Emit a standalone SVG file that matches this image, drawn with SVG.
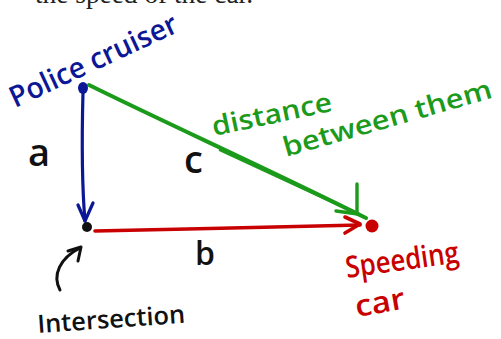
<svg xmlns="http://www.w3.org/2000/svg" width="501" height="339" viewBox="0 0 501 339">
<style>
.hand{font-family:"Open Sans","DejaVu Sans","Liberation Sans",sans-serif;font-weight:600;}
.ln{fill:none;stroke-linecap:round;stroke-linejoin:round;}
.blue{stroke:#0c1796;}
.green{stroke:#1b9a1b;}
.red{stroke:#c80000;}
.blk{stroke:#111;}
</style>
<rect width="501" height="339" fill="#fff"/>
<text x="35" y="3" font-family="Liberation Serif, serif" font-size="27" fill="#222" textLength="218" lengthAdjust="spacingAndGlyphs">the speed of the car.</text>

<g id="connectors">
  <!-- a: police to intersection -->
  <path class="ln blue" stroke-width="3.2" d="M83,92 C82,130 81,175 85,221"/>
  <path class="ln blue" stroke-width="3.2" d="M78,205 L85,221 L93,203"/>
  <!-- b: intersection to car -->
  <path class="ln red" stroke-width="3.6" d="M95,231 C180,229 280,227 360,225"/>
  <path class="ln red" stroke-width="3.6" d="M345,217 L360,224 L345,233"/>
  <!-- c: police to car -->
  <path class="ln green" stroke-width="4" d="M89,85 C170,125 270,170 366,218"/>
  <path class="ln green" stroke-width="2.5" d="M220,150 C280,178 320,196 360,215"/>
  <path class="ln green" stroke-width="3.4" d="M357,184 L357,213 M336,211 L358,214"/>
  <!-- intersection pointer -->
  <path class="ln blk" stroke-width="3" d="M60,290 C52,275 60,258 80,248"/>
  <path class="ln blk" stroke-width="3" d="M68,251 L81,247 L78,261"/>
</g>

<g id="police">
  <ellipse cx="83" cy="88" rx="5" ry="6" fill="#0c1796"/>
  <text class="hand" x="15" y="108" font-size="29" fill="#0c1796" transform="rotate(-25 15 108)" textLength="182" lengthAdjust="spacingAndGlyphs">Police cruiser</text>
</g>

<g id="intersection">
  <circle cx="87" cy="227" r="5" fill="#111"/>
  <text class="hand" x="38" y="333" font-size="25" fill="#111" transform="rotate(-4 38 333)" textLength="148" lengthAdjust="spacingAndGlyphs">Intersection</text>
</g>

<g id="car">
  <circle cx="372" cy="226" r="6.5" fill="#c80000"/>
  <text class="hand" x="347" y="278" font-size="30" fill="#c80000" transform="rotate(-8 347 278)" textLength="114" lengthAdjust="spacingAndGlyphs">Speeding</text>
  <text class="hand" x="357" y="317" font-size="30" fill="#c80000" transform="rotate(-10 357 317)" textLength="50" lengthAdjust="spacingAndGlyphs">car</text>
</g>

<g id="labels">
  <text class="hand" x="28" y="166" font-size="38" fill="#111">a</text>
  <text class="hand" x="184" y="173" font-size="38" fill="#111">c</text>
  <text class="hand" x="195" y="265" font-size="32" fill="#111">b</text>
  <text class="hand" x="214" y="136" font-size="27" fill="#1b9a1b" transform="rotate(-12 214 136)" textLength="122" lengthAdjust="spacingAndGlyphs">distance</text>
  <text class="hand" x="286" y="157" font-size="27" fill="#1b9a1b" transform="rotate(-16 286 157)" textLength="216" lengthAdjust="spacingAndGlyphs">between them</text>
</g>
</svg>
